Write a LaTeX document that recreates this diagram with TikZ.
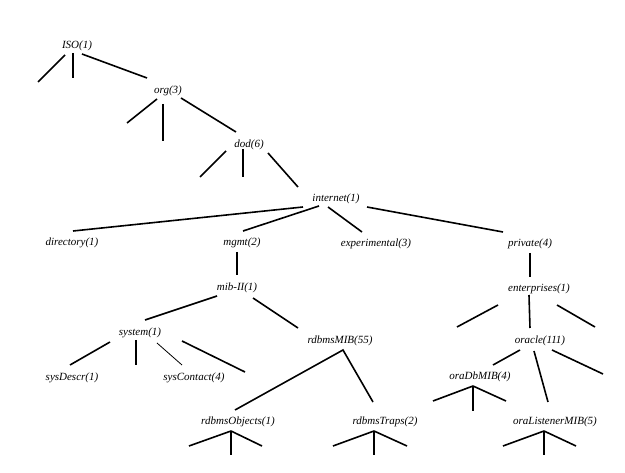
\documentclass[tikz,border=0pt]{standalone}
\usepackage{fontspec}
\setmainfont{Liberation Serif}
\usetikzlibrary{calc}
\begin{document}
\begin{tikzpicture}[x=1pt,y=-1pt,
  lbl/.style={inner sep=0pt,text height=9.5pt,text depth=0pt,font=\fontsize{11}{13}\selectfont\itshape},
  edge/.style={line width=1.6pt},
  thinedge/.style={line width=0.8pt}]
\useasboundingbox (0,0) rectangle (625,473);
\node[lbl] (iso) at (77,44) {ISO(1)};
\node[lbl] (org) at (168,89) {org(3)};
\node[lbl] (dod) at (249,143) {dod(6)};
\node[lbl] (inet) at (336,197) {internet(1)};
\node[lbl] (dir) at (72,241) {directory(1)};
\node[lbl] (mgmt) at (242,241) {mgmt(2)};
\node[lbl] (exp) at (376,242) {experimental(3)};
\node[lbl] (priv) at (530,242) {private(4)};
\node[lbl] (mib) at (237,286) {mib-II(1)};
\node[lbl] (ent) at (539,287) {enterprises(1)};
\node[lbl] (sys) at (140,331) {system(1)};
\node[lbl] (rmib) at (340,339) {rdbmsMIB(55)};
\node[lbl] (ora) at (540,339) {oracle(111)};
\node[lbl] (descr) at (72,376) {sysDescr(1)};
\node[lbl] (contact) at (194,376) {sysContact(4)};
\node[lbl] (odb) at (480,375) {oraDbMIB(4)};
\node[lbl] (robj) at (238,420) {rdbmsObjects(1)};
\node[lbl] (rtrap) at (385,420) {rdbmsTraps(2)};
\node[lbl] (olis) at (555,420) {oraListenerMIB(5)};

% ISO
\draw[edge] ($(iso)+(-12,11)$) -- ++(-27,27);
\draw[edge] ($(iso)+(-4,9)$) -- ++(0,25);
\draw[edge] ($(iso)+(5,10)$) -- ($(org)+(-21,-11)$);
% org
\draw[edge] ($(org)+(-11,10)$) -- ++(-30,24);
\draw[edge] ($(org)+(-5,15)$) -- ++(0,37);
\draw[edge] ($(org)+(13,9)$) -- ($(dod)+(-13,-11)$);
% dod
\draw[edge] ($(dod)+(-23,8)$) -- ++(-26,26);
\draw[edge] ($(dod)+(-6,6)$) -- ++(0,28);
\draw[edge] ($(dod)+(19,10)$) -- ($(inet)+(-38,-10)$);
% internet
\draw[edge] ($(inet)+(-33,10)$) -- ($(dir)+(1,-10)$);
\draw[edge] ($(inet)+(-17,9)$) -- ($(mgmt)+(1,-10)$);
\draw[edge] ($(inet)+(-8,10)$) -- ($(exp)+(-14,-10)$);
\draw[edge] ($(inet)+(31,10)$) -- ($(priv)+(-27,-10)$);
% mgmt
\draw[edge] ($(mgmt)+(-5,11)$) -- ($(mib)+(0,-11)$);
% mib-II
\draw[edge] ($(mib)+(-20,10)$) -- ($(sys)+(5,-11)$);
\draw[edge] ($(mib)+(16,12)$) -- ($(rmib)+(-42,-11)$);
% private
\draw[edge] ($(priv)+(0,11)$) -- ($(ent)+(-9,-10)$);
% enterprises
\draw[edge] ($(ent)+(-41,18)$) -- ++(-41,22);
\draw[edge] ($(ent)+(-10,8)$) -- ($(ora)+(-10,-11)$);
\draw[edge] ($(ent)+(18,18)$) -- ++(38,22);
% system
\draw[edge] ($(sys)+(-30,11)$) -- ($(descr)+(-2,-11)$);
\draw[edge] ($(sys)+(-4,9)$) -- ++(0,25);
\draw[thinedge] ($(sys)+(17,12)$) -- ($(contact)+(-12,-11)$);
\draw[edge] ($(sys)+(42,10)$) -- ++(63,31);
% rdbmsMIB
\draw[edge] ($(rtrap)+(-12,-18)$) -- ($(rmib)+(3,11)$) -- ($(robj)+(-3,-10)$);
% oracle
\draw[edge] ($(ora)+(-20,11)$) -- ($(odb)+(13,-10)$);
\draw[edge] ($(ora)+(-6,12)$) -- ($(olis)+(-7,-18)$);
\draw[edge] ($(ora)+(12,11)$) -- ++(51,24);
% leaves fans
\draw[edge] ($(odb)+(-7,11)$) coordinate (odbA) -- ++(-40,15);
\draw[edge] (odbA) -- ++(33,15);
\draw[edge] (odbA) -- ++(0,25);
\draw[edge] ($(robj)+(-7,11)$) coordinate (robjA) -- ++(-42,15);
\draw[edge] (robjA) -- ++(31,15);
\draw[edge] (robjA) -- ++(0,24);
\draw[edge] ($(rtrap)+(-11,11)$) coordinate (rtrapA) -- ++(-41,15);
\draw[edge] (rtrapA) -- ++(33,15);
\draw[edge] (rtrapA) -- ++(0,24);
\draw[edge] ($(olis)+(-11,11)$) coordinate (olisA) -- ++(-41,15);
\draw[edge] (olisA) -- ++(32,15);
\draw[edge] (olisA) -- ++(0,24);
\end{tikzpicture}
\end{document}
